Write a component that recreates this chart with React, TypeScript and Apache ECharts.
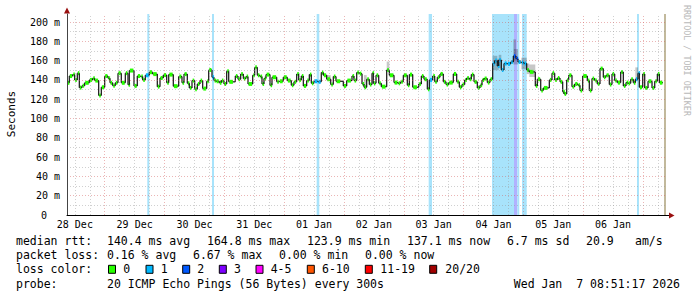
import React, { useEffect, useRef } from "react";
import * as echarts from "echarts";

// ---- data (hours since 28 Dec 00:00) ----
const START_HOUR = 8.85;
const END_HOUR = 249.25;
const DATA_END = 248.04;

const DAY_LABELS = ["28 Dec", "29 Dec", "30 Dec", "31 Dec", "01 Jan", "02 Jan", "03 Jan", "04 Jan", "05 Jan", "06 Jan"];

const medianTimes = [
  8.97, 9.77, 11.14, 11.94, 12.98, 13.79, 14.87, 15.95, 17.8, 19.16, 19.97, 21.57, 22.62, 23.98, 25.31, 26.11,
  27.19, 28.23, 29.32, 30.64, 32.25, 33.33, 33.85, 35.74, 37.06, 38.43, 39.23, 40.27, 41.88, 43.24, 45.09, 46.18,
  47.5, 48.86, 49.67, 51.51, 53.68, 55.0, 55.81, 57.13, 57.93, 59.02, 60.1, 61.15, 62.23, 63.31, 64.92, 65.72,
  67.04, 67.85, 68.65, 69.98, 70.78, 71.86, 72.94, 73.75, 76.4, 77.48, 78.56, 79.61, 80.69, 81.49, 83.38, 84.18,
  85.22, 86.31, 87.11, 87.91, 88.72, 90.32, 91.12, 93.01, 94.05, 95.66, 97.26, 98.87, 99.95, 101.04, 101.84, 102.88,
  103.69, 105.05, 106.1, 106.9, 107.98, 109.59, 110.91, 111.72, 113.08, 114.69, 115.73, 116.81, 119.74, 121.11, 123.23, 124.03,
  125.12, 126.16, 127.25, 128.05, 129.13, 130.18, 131.26, 131.78, 132.87, 133.95, 135.0, 137.16, 138.21, 140.09, 141.7, 142.78,
  143.83, 145.43, 146.24, 147.6, 150.01, 151.06, 152.13, 153.46, 154.26, 155.63, 156.43, 157.47, 158.55, 159.88, 160.96, 162.04,
  163.89, 165.25, 166.3, 167.38, 168.46, 169.27, 170.31, 171.11, 172.2, 173.52, 174.61, 175.41, 176.21, 177.54, 178.62, 179.7,
  180.51, 181.55, 182.11, 183.16, 184.24, 185.57, 186.93, 187.98, 189.06, 189.86, 191.18, 192.27, 193.35, 194.39, 196.8, 197.6,
  198.97, 200.01, 202.42, 203.5, 204.58, 205.63, 206.71, 207.79, 208.31, 209.4, 210.2, 211.52, 212.6, 213.93, 214.73, 215.82,
  217.67, 218.47, 219.55, 220.64, 221.68, 222.76, 224.09, 225.17, 226.5, 227.58, 228.66, 229.71, 231.07, 232.12, 233.2, 234.01,
  235.09, 236.13, 236.94, 238.02, 238.54, 239.91, 240.71, 242.04, 243.64, 244.73, 245.77, 246.58,
];

const medianValues = [
  137, 144, 145.5, 140, 147, 132, 134, 137, 140, 141.7, 139.3, 123.9, 132.4, 144, 141.7, 137,
  134, 137, 147, 137, 147, 135, 149.7, 133.8, 144, 143.5, 140, 144.8, 148, 146, 133, 142,
  145, 137, 145.5, 133.5, 143.5, 137, 146, 136.5, 131.7, 139.3, 130.3, 135.8, 139.3, 131, 138.6, 150.3,
  142.8, 139.3, 138.6, 137, 139.3, 135.8, 149, 138, 144, 140.7, 146, 141.4, 143.5, 135.8, 144.8, 153,
  144.8, 143.5, 135.8, 141.4, 145.5, 134.5, 142.8, 138, 138.6, 142.8, 139.3, 134.5, 138, 146, 140, 144,
  133.8, 139.3, 145.5, 136.5, 138.6, 138, 147.6, 144.8, 140.7, 135.2, 143.5, 138.6, 133.8, 139.3, 144, 139.3,
  147.6, 146.5, 135.8, 132.4, 140.7, 135.2, 147, 136.5, 144.8, 136.5, 133, 150.3, 144.8, 137.2, 136.5, 138,
  144.8, 134.5, 145.5, 132.4, 135.8, 144, 140.7, 130.3, 140, 144, 138, 142.8, 146.2, 138, 135.2, 137.2,
  146.2, 138, 132.4, 135.2, 140, 142, 140.7, 145.5, 138, 131.7, 134.5, 140, 141.4, 137.2, 140.7, 157,
  160, 154.5, 160.5, 150.3, 157, 156.6, 158.6, 164.8, 162, 158.6, 158, 157, 150.3, 148.3, 133.8, 140.7,
  129, 131.7, 140, 147, 140, 142, 138, 127.6, 125.5, 140, 144.8, 133, 135.8, 134.5, 129, 144,
  139.3, 129, 141.4, 139.3, 135.8, 151.7, 142.8, 144.8, 135.2, 146.2, 139.3, 137.2, 148.3, 133.8, 137.2, 136.5,
  140.7, 137, 140.7, 147, 132.4, 146.2, 131.7, 138.6, 131.7, 138.6, 146.2, 137.1,
];

// ping "smoke" spread
const smokeStart = [113.08, 128.05, 137.16, 179.7, 181.55, 182.11, 187.98, 188.2, 189.06, 191.18, 193.35, 194.39, 236.94];
const smokeEnd = [114.69, 129.13, 138.21, 181.55, 182.11, 183.16, 189.06, 189.0, 189.86, 193.35, 194.39, 196.8, 238.02];
const smokeLow = [139, 131, 149, 150, 150, 152, 156, 160, 156, 151, 146, 143, 139];
const smokeHigh = [145, 145, 159, 165, 162, 166, 182, 172, 172, 163, 157, 156, 153];

// packet loss periods (lost pings out of 20)
const lossStart = [41.08, 67.04, 109.06, 154.0, 179.42, 188.25, 189.57, 191.47, 237.6];
const lossEnd = [41.88, 67.85, 110.1, 155.34, 188.25, 189.57, 190.37, 193.35, 238.4];
const lossCount = [1, 1, 1, 1, 1, 2, 1, 1, 1];
const unknownStart = [248.45];
const unknownEnd = [249.25];

const rttStats = ["140.4 ms avg", "164.8 ms max", "123.9 ms min", "137.1 ms now", "6.7 ms sd", "20.9", "am/s"];
const lossStats = ["0.16 % avg", "6.67 % max", "0.00 % min", "0.00 % now"];
const lossLegend = ["0", "1", "2", "3", "4-5", "6-10", "11-19", "20/20"];
const probeText = "20 ICMP Echo Pings (56 Bytes) every 300s";
const dateText = "Wed Jan  7 08:51:17 2026";

// ---- styles / layout ----
const MONO = "'DejaVu Sans Mono', monospace";
const LOSS_COLORS = ["#26ff00", "#00b8ff", "#0059ff", "#7e00ff", "#ff00ff", "#ff5500", "#ff0000", "#a10000"];
const BAND_COLORS = ["#ffffff", "#a8e3fb", "#b0b2ff"];
const MAJOR_GRID = "rgba(210,90,90,0.45)";
const MINOR_GRID = "rgba(150,150,150,0.45)";
const RTT_X = [107, 207, 307, 407, 507, 586, 635];
const LOSS_X = [107, 193, 279, 365];
const BOX_X = [108.5, 146, 182.7, 219.3, 256, 307.3, 365.3, 429.7];
const LEG_TEXT_X = [123.3, 160.7, 197.3, 234, 270.7, 322, 380.3, 445.3];
const LINE_Y = [241.3, 255.3, 269.3, 283.6];

function lossFor(s: number, e: number): number {
  let m = 0;
  for (let i = 0; i < lossStart.length; i++) {
    const ov = Math.min(e, lossEnd[i]) - Math.max(s, lossStart[i]);
    if (ov >= 0.3) m = Math.max(m, lossCount[i]);
  }
  return m;
}

function buildOption() {
  const n = medianTimes.length;
  const medianData = medianTimes.map((t, i) => {
    const end = i < n - 1 ? medianTimes[i + 1] : DATA_END;
    const v = medianValues[i];
    const next = i < n - 1 ? medianValues[i + 1] : v;
    return [t, end, v, next, lossFor(t, end)];
  });
  const smokeData = smokeStart.map((s, i) => [s, smokeEnd[i], smokeLow[i], smokeHigh[i]]);

  const gridLines: any[] = [];
  for (let h = 12; h < END_HOUR; h += 6) {
    gridLines.push({ xAxis: h, lineStyle: { color: h % 24 === 0 ? MAJOR_GRID : MINOR_GRID, type: [1, 2], width: 1 } });
  }
  for (let v = 10; v <= 200; v += 10) {
    gridLines.push({ yAxis: v, lineStyle: { color: v % 20 === 0 ? MAJOR_GRID : MINOR_GRID, type: [1, 2], width: 1 } });
  }

  const bands: any[] = lossStart.map((s, i) => [
    { xAxis: s, itemStyle: { color: BAND_COLORS[lossCount[i]] } },
    { xAxis: lossEnd[i] },
  ]);
  unknownStart.forEach((s, i) => bands.push([{ xAxis: s, itemStyle: { color: "#c2b99c" } }, { xAxis: unknownEnd[i] }]));

  const textStyle = (text: string, x: number, y: number, extra: any = {}) => ({
    type: "text",
    x,
    y,
    silent: true,
    style: { text, fill: "#000", fontFamily: MONO, fontSize: 11.5, align: "left", verticalAlign: "middle", ...extra },
  });

  const graphic: any[] = [
    {
      type: "text", x: 11, y: 114, rotation: Math.PI / 2, silent: true,
      style: { text: "Seconds", fill: "#000", fontFamily: MONO, fontSize: 11, align: "center", verticalAlign: "middle" },
    },
    {
      type: "text", x: 687, y: 5, rotation: -Math.PI / 2, silent: true,
      style: { text: "RRDTOOL / TOBI OETIKER", fill: "#b8b8b8", fontFamily: MONO, fontSize: 8.4, align: "left", verticalAlign: "middle" },
    },
    { type: "polygon", silent: true, shape: { points: [[64, 13.5], [70, 13.5], [67, 7.5]] }, style: { fill: "#9a1010" } },
    { type: "line", silent: true, shape: { x1: 666, y1: 215.5, x2: 670, y2: 215.5 }, style: { stroke: "#000", lineWidth: 1 } },
    { type: "polygon", silent: true, shape: { points: [[669, 212.5], [669, 218.5], [674.5, 215.5]] }, style: { fill: "#9a1010" } },
    textStyle("median rtt:", 16, LINE_Y[0]),
    textStyle("packet loss:", 16, LINE_Y[1]),
    textStyle("loss color:", 16, LINE_Y[2]),
    textStyle("probe:", 16, LINE_Y[3]),
    textStyle(probeText, 107, LINE_Y[3]),
    textStyle(dateText, 680, LINE_Y[3], { align: "right" }),
  ];
  rttStats.forEach((t, i) => graphic.push(textStyle(t, RTT_X[i], LINE_Y[0])));
  lossStats.forEach((t, i) => graphic.push(textStyle(t, LOSS_X[i], LINE_Y[1])));
  lossLegend.forEach((t, i) => {
    graphic.push({
      type: "rect", silent: true,
      shape: { x: BOX_X[i], y: LINE_Y[2] - 4, width: 7, height: 8 },
      style: { fill: LOSS_COLORS[i], stroke: "#000", lineWidth: 1 },
    });
    graphic.push(textStyle(t, LEG_TEXT_X[i], LINE_Y[2]));
  });

  return {
    animation: false,
    backgroundColor: "#ffffff",
    grid: { left: 67, right: 31, top: 14, bottom: 82, containLabel: false },
    xAxis: {
      type: "value",
      min: START_HOUR,
      max: END_HOUR,
      z: 10,
      axisLine: { show: true, lineStyle: { color: "#000", width: 1 } },
      axisTick: { show: false },
      splitLine: { show: false },
      axisLabel: {
        customValues: DAY_LABELS.map((_, i) => 12 + 24 * i),
        formatter: (v: number) => DAY_LABELS[Math.round((v - 12) / 24)] ?? "",
        fontFamily: MONO,
        fontSize: 10,
        color: "#000",
        margin: 4,
      },
    },
    yAxis: {
      type: "value",
      min: 0,
      max: 208.3,
      interval: 20,
      z: 10,
      axisLine: { show: true, lineStyle: { color: "#444", width: 1 } },
      axisTick: { show: false },
      splitLine: { show: false },
      axisLabel: {
        showMaxLabel: false,
        formatter: (v: number) => (v === 0 ? "{z|0}" : `${v} m`),
        fontFamily: MONO,
        fontSize: 10,
        color: "#000",
        margin: 7,
        rich: { z: { fontFamily: MONO, fontSize: 10, color: "#000", padding: [0, 13, 0, 0] } },
      },
    },
    graphic,
    series: [
      {
        type: "line",
        data: [],
        z: 1,
        silent: true,
        markLine: { symbol: ["none", "none"], silent: true, animation: false, label: { show: false }, data: gridLines },
      },
      {
        type: "line",
        data: [],
        z: 2,
        silent: true,
        markArea: { silent: true, animation: false, data: bands },
      },
      {
        type: "custom",
        z: 3,
        silent: true,
        data: smokeData,
        encode: { x: [0, 1], y: [2, 3] },
        renderItem: (_p: any, api: any) => {
          const a = api.coord([api.value(0), api.value(3)]);
          const b = api.coord([api.value(1), api.value(2)]);
          return {
            type: "rect",
            shape: { x: a[0], y: a[1], width: b[0] - a[0], height: b[1] - a[1] },
            style: { fill: "rgba(0,0,0,0.22)" },
          };
        },
      },
      {
        type: "custom",
        z: 4,
        silent: true,
        data: medianData,
        encode: { x: [0, 1], y: [2, 3] },
        renderItem: (_p: any, api: any) => {
          const s = api.value(0), e = api.value(1), v = api.value(2), nv = api.value(3), L = api.value(4);
          const p0 = api.coord([s, v]);
          const p1 = api.coord([e, v]);
          const p2 = api.coord([e, nv]);
          const w = p1[0] - p0[0];
          return {
            type: "group",
            children: [
              { type: "line", shape: { x1: p0[0], y1: p0[1], x2: p1[0], y2: p1[1] }, style: { stroke: "#111", lineWidth: 1.2 } },
              {
                type: "rect",
                shape: { x: p0[0] + 0.6, y: p0[1] - 2, width: Math.max(Math.min(w - 1.2, 3.6), 1.5), height: 4 },
                style: { fill: LOSS_COLORS[L] },
              },
              { type: "line", shape: { x1: p1[0], y1: p1[1], x2: p2[0], y2: p2[1] }, style: { stroke: "#111", lineWidth: 1.2 } },
            ],
          };
        },
      },
    ],
  };
}

export default function App() {
  const ref = useRef<HTMLDivElement>(null);
  useEffect(() => {
    document.body.style.margin = "0";
    if (!ref.current) return;
    const chart = echarts.init(ref.current, null, { renderer: "svg", width: 697, height: 297 });
    chart.setOption(buildOption() as any);
    return () => chart.dispose();
  }, []);
  return <div ref={ref} style={{ width: 697, height: 297, background: "#fff" }} />;
}
